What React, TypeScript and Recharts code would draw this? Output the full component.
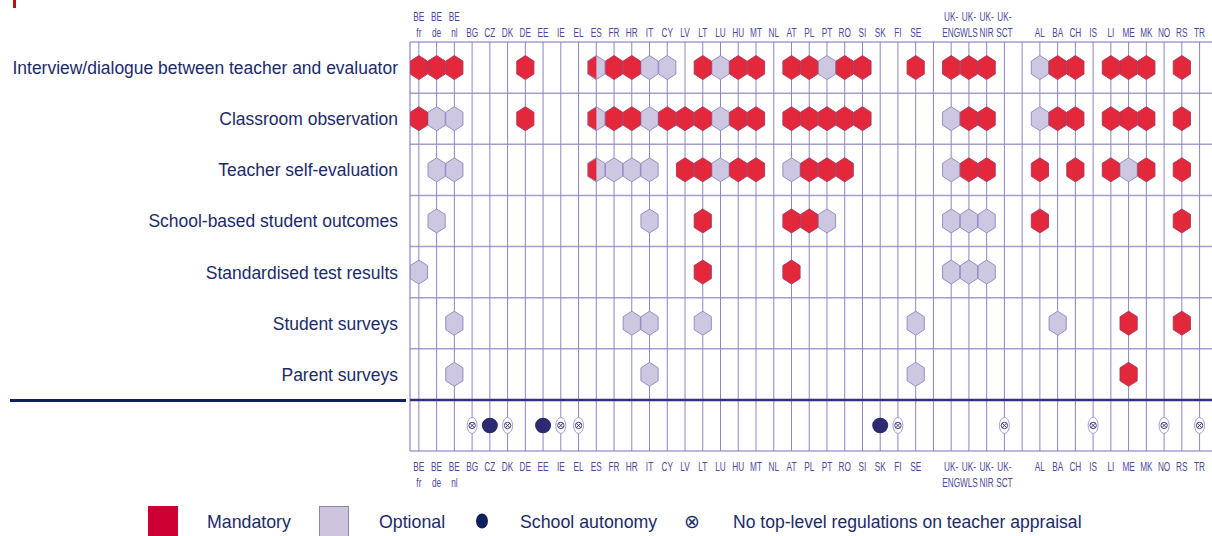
import React from "react";
import { ScatterChart, Scatter, XAxis, YAxis, ReferenceLine } from "recharts";

// column slots, "" = spacer column between country groups
const COLUMNS = [
  "BE fr", "BE de", "BE nl", "BG", "CZ", "DK", "DE", "EE", "IE", "EL",
  "ES", "FR", "HR", "IT", "CY", "LV", "LT", "LU", "HU", "MT",
  "NL", "AT", "PL", "PT", "RO", "SI", "SK", "FI", "SE", "",
  "UK-ENG", "UK-WLS", "UK-NIR", "UK-SCT", "",
  "AL", "BA", "CH", "IS", "LI", "ME", "MK", "NO", "RS", "TR",
];

const ROWS = [
  "Interview/dialogue between teacher and evaluator",
  "Classroom observation",
  "Teacher self-evaluation",
  "School-based student outcomes",
  "Standardised test results",
  "Student surveys",
  "Parent surveys",
];

const interviewMandatory = ["BE fr", "BE de", "BE nl", "DE", "FR", "HR", "LT", "HU", "MT", "AT", "PL", "RO", "SI", "SE", "UK-ENG", "UK-WLS", "UK-NIR", "BA", "CH", "LI", "ME", "MK", "RS"];
const interviewOptional = ["IT", "CY", "LU", "PT", "AL"];
const classroomMandatory = ["BE fr", "DE", "FR", "HR", "CY", "LV", "LT", "HU", "MT", "AT", "PL", "PT", "RO", "SI", "UK-WLS", "UK-NIR", "BA", "CH", "LI", "ME", "MK", "RS"];
const classroomOptional = ["BE de", "BE nl", "IT", "LU", "UK-ENG", "AL"];
const selfEvalMandatory = ["LV", "LT", "HU", "MT", "PL", "PT", "RO", "UK-WLS", "UK-NIR", "AL", "CH", "LI", "MK", "RS"];
const selfEvalOptional = ["BE de", "BE nl", "FR", "HR", "IT", "LU", "AT", "UK-ENG", "ME"];
const outcomesMandatory = ["LT", "AT", "PL", "AL", "RS"];
const outcomesOptional = ["BE de", "IT", "PT", "UK-ENG", "UK-WLS", "UK-NIR"];
const testsMandatory = ["LT", "AT"];
const testsOptional = ["BE fr", "UK-ENG", "UK-WLS", "UK-NIR"];
const studentMandatory = ["ME", "RS"];
const studentOptional = ["BE nl", "HR", "IT", "LT", "SE", "BA"];
const parentMandatory = ["ME"];
const parentOptional = ["BE nl", "IT", "SE"];
// ES: partly mandatory, partly optional on the first three rows
const mixedRows = [0, 1, 2];
const mixedCountry = "ES";

const schoolAutonomy = ["CZ", "EE", "SK"];
const noRegulation = ["BG", "DK", "IE", "EL", "FI", "UK-SCT", "IS", "NO", "TR"];

const RED = "#e2283a"
const LILAC = "#cec7e2"
const NAVY = "#1c2a6b"
const GRID = "#8d86c4"

const pts = (list: string[], row: number) =>
  list.map((c) => ({ x: COLUMNS.indexOf(c), y: row }))

const mandatory = [
  ...pts(interviewMandatory, 0), ...pts(classroomMandatory, 1), ...pts(selfEvalMandatory, 2),
  ...pts(outcomesMandatory, 3), ...pts(testsMandatory, 4), ...pts(studentMandatory, 5),
  ...pts(parentMandatory, 6),
]
const optional = [
  ...pts(interviewOptional, 0), ...pts(classroomOptional, 1), ...pts(selfEvalOptional, 2),
  ...pts(outcomesOptional, 3), ...pts(testsOptional, 4), ...pts(studentOptional, 5),
  ...pts(parentOptional, 6),
]
const mixed = mixedRows.map((r) => ({ x: COLUMNS.indexOf(mixedCountry), y: r }))
const autonomy = pts(schoolAutonomy, 7)
const noReg = pts(noRegulation, 7)

const HW = 8.6, SH = 6.5, TIP = 12

function hexPoints(cx: number, cy: number) {
  return [
    [cx, cy - TIP], [cx + HW, cy - SH], [cx + HW, cy + SH],
    [cx, cy + TIP], [cx - HW, cy + SH], [cx - HW, cy - SH],
  ].map((p) => p.join(",")).join(" ")
}

function Hex({ cx, cy, fill, stroke }: any) {
  return <polygon points={hexPoints(cx, cy)} fill={fill} stroke={stroke} strokeWidth={0.9} />
}

function HalfHex({ cx, cy }: any) {
  const left = [[cx, cy - TIP], [cx, cy + TIP], [cx - HW, cy + SH], [cx - HW, cy - SH]]
  const right = [[cx, cy - TIP], [cx + HW, cy - SH], [cx + HW, cy + SH], [cx, cy + TIP]]
  return (
    <g>
      <polygon points={right.map((p) => p.join(",")).join(" ")} fill={LILAC} />
      <polygon points={left.map((p) => p.join(",")).join(" ")} fill={RED} />
      <polygon points={hexPoints(cx, cy)} fill="none" stroke="#8f86c0" strokeWidth={0.9} />
    </g>
  )
}

function NoRegMark({ cx, cy }: any) {
  return (
    <g>
      <ellipse cx={cx} cy={cy} rx={5} ry={8} fill="#fff" stroke="#a49ed2" strokeWidth={1} />
      <circle cx={cx} cy={cy} r={3.2} fill="none" stroke="#2d2b6f" strokeWidth={0.9} />
      <path d={`M${cx - 2.2},${cy - 2.2}L${cx + 2.2},${cy + 2.2}M${cx + 2.2},${cy - 2.2}L${cx - 2.2},${cy + 2.2}`} stroke="#2d2b6f" strokeWidth={0.9} />
    </g>
  )
}

function splitLabel(c: string): [string, string] {
  if (c.startsWith("UK-")) return ["UK-", c.slice(3)]
  const parts = c.split(" ")
  return parts.length === 2 ? [parts[0], parts[1]] : ["", c]
}

const tickFont = {
  fontFamily: "'Liberation Sans', Arial, sans-serif",
  fontSize: 12.5,
  fill: "#4c489c",
}

function TickText({ x, y, children }: any) {
  if (!children) return null
  return (
    <text transform={`translate(${x},${y}) scale(0.66,1)`} textAnchor="middle" {...tickFont}>
      {children}
    </text>
  )
}

function TopTick({ x, payload }: any) {
  const c = COLUMNS[payload.value]
  if (!c) return null
  const [a, b] = splitLabel(c)
  return (
    <g>
      <TickText x={x} y={21}>{a}</TickText>
      <TickText x={x} y={37}>{b}</TickText>
    </g>
  )
}

function BottomTick({ x, payload }: any) {
  const c = COLUMNS[payload.value]
  if (!c) return null
  const [a, b] = splitLabel(c)
  return (
    <g>
      <TickText x={x} y={471}>{a || b}</TickText>
      {a && <TickText x={x} y={487}>{b}</TickText>}
    </g>
  )
}

function RowTick({ x, y, payload }: any) {
  const label = ROWS[payload.value]
  if (!label) return null
  return (
    <text
      transform={`translate(${x - 4},${y + 6.5}) scale(0.945,1)`}
      textAnchor="end"
      fontFamily="'Liberation Sans', Arial, sans-serif"
      fontSize={18.5}
      fill={NAVY}
    >
      {label}
    </text>
  )
}

function LegendRow() {
  const txt = {
    fontFamily: "'Liberation Sans', Arial, sans-serif",
    fontSize: 18.5,
    fill: NAVY,
  }
  return (
    <svg width={1212} height={40} style={{ position: "absolute", left: 0, top: 500 }}>
      <rect x={148} y={6} width={30} height={31} fill="#cc0033" />
      <text {...txt} transform="translate(207,28) scale(0.96,1)">Mandatory</text>
      <rect x={319.5} y={6.5} width={29} height={30} fill="#cfc4dd" stroke="#8f86ae" />
      <text {...txt} transform="translate(379,28) scale(0.96,1)">Optional</text>
      <ellipse cx={482} cy={21} rx={6} ry={7.5} fill="#0f1f5f" />
      <text {...txt} transform="translate(520,28) scale(0.96,1)">School autonomy</text>
      <text {...txt} fontFamily="'DejaVu Sans', sans-serif" fontSize={19} x={692} y={28} textAnchor="middle">⊗</text>
      <text {...txt} transform="translate(733,28) scale(0.95,1)">No top-level regulations on teacher appraisal</text>
    </svg>
  )
}

export default function App() {
  const xDomain: [number, number] = [-0.5, 44.7]
  return (
    <div style={{ position: "absolute", left: 0, top: 0, width: 1212, height: 536, background: "#fff", overflow: "hidden" }}>
      <div style={{ position: "absolute", left: 13, top: 0, width: 3, height: 8, background: "#b5121b" }} />
      <ScatterChart width={1212} height={536} margin={{ top: 0, right: 0, bottom: 0, left: 0 }}>
        <XAxis
          xAxisId="top"
          orientation="top"
          type="number"
          dataKey="x"
          domain={xDomain}
          ticks={COLUMNS.map((_, i) => i)}
          interval={0}
          height={42}
          axisLine={false}
          tickLine={false}
          tick={<TopTick />}
          allowDataOverflow
        />
        <XAxis
          xAxisId="bottom"
          orientation="bottom"
          type="number"
          dataKey="x"
          domain={xDomain}
          ticks={COLUMNS.map((_, i) => i)}
          interval={0}
          height={85}
          axisLine={false}
          tickLine={false}
          tick={<BottomTick />}
          allowDataOverflow
        />
        <YAxis
          type="number"
          dataKey="y"
          domain={[-0.5, 7.5]}
          reversed
          ticks={ROWS.map((_, i) => i)}
          interval={0}
          width={410}
          axisLine={false}
          tickLine={false}
          tick={<RowTick />}
          allowDataOverflow
        />

        {[-0.5, 0.5, 1.5, 2.5, 3.5, 4.5, 5.5, 7.5].map((v) => (
          <ReferenceLine key={`h${v}`} xAxisId="top" y={v} stroke="#a49ed2" strokeWidth={1.5} />
        ))}
        <ReferenceLine xAxisId="top" x={-0.5} stroke={GRID} strokeWidth={1.2} />
        {COLUMNS.map((_, i) => (
          <ReferenceLine key={`v${i}`} xAxisId="top" x={i} stroke={GRID} strokeWidth={1} />
        ))}
        <ReferenceLine xAxisId="top" y={6.5} stroke="#34307a" strokeWidth={2.5} />

        <Scatter
          xAxisId="top"
          data={optional}
          isAnimationActive={false}
          shape={(p: any) => <Hex cx={p.cx} cy={p.cy} fill={LILAC} stroke="#8f86c0" />}
        />
        <Scatter
          xAxisId="top"
          data={mandatory}
          isAnimationActive={false}
          shape={(p: any) => <Hex cx={p.cx} cy={p.cy} fill={RED} stroke="#a8375e" />}
        />
        <Scatter
          xAxisId="top"
          data={mixed}
          isAnimationActive={false}
          shape={(p: any) => <HalfHex cx={p.cx} cy={p.cy} />}
        />
        <Scatter
          xAxisId="top"
          data={autonomy}
          isAnimationActive={false}
          shape={(p: any) => <ellipse cx={p.cx} cy={p.cy} rx={8} ry={7.8} fill="#2e2a72" />}
        />
        <Scatter
          xAxisId="top"
          data={noReg}
          isAnimationActive={false}
          shape={(p: any) => <NoRegMark cx={p.cx} cy={p.cy} />}
        />
      </ScatterChart>
      <div style={{ position: "absolute", left: 10, top: 399, width: 396, height: 3, background: "#0f1f5f" }} />
      <LegendRow />
    </div>
  )
}
